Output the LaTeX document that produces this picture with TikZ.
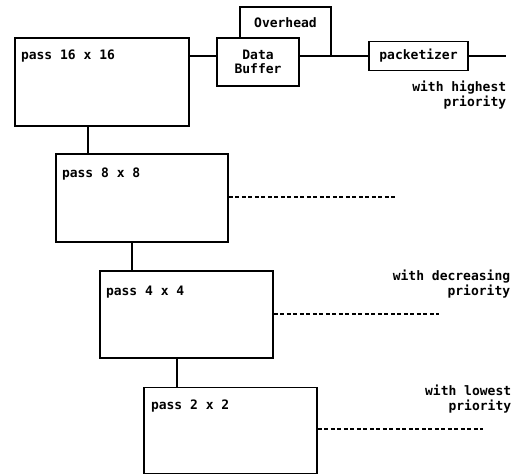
\documentclass[tikz,border=0pt]{standalone}
\usepackage{fontspec}
\setmonofont{DejaVu Sans Mono}
\begin{document}
\begin{tikzpicture}[x=1pt,y=1pt,
  line width=1.6pt,
  every node/.style={font=\ttfamily\bfseries\fontsize{13}{15}\selectfont},
  box/.style={draw, rectangle, inner sep=0pt},
  txt/.style={inner sep=0pt, anchor=west},
  lbl/.style={inner sep=0pt, align=right, anchor=north east},
  dsh/.style={line width=1.3pt, dash pattern=on 4pt off 2.5pt}]
\useasboundingbox (0,0) rectangle (517,-475);
% pass boxes
\node[box, minimum width=174pt, minimum height=88pt] (b1) at (102,-82) {};
\node[box, minimum width=172pt, minimum height=88pt] (b2) at (142,-198) {};
\node[box, minimum width=173pt, minimum height=87pt] (b3) at (186.5,-314.5) {};
\node[box, minimum width=173pt, minimum height=86pt] (b4) at (230.5,-430.5) {};
\node[txt] (t1) at ([xshift=6pt,yshift=-19pt]b1.north west) {pass 16 x 16};
\node[txt] (t2) at ([xshift=6pt,yshift=-21pt]b2.north west) {pass 8 x 8};
\node[txt] (t3) at ([xshift=6pt,yshift=-22pt]b3.north west) {pass 4 x 4};
\node[txt] (t4) at ([xshift=7pt,yshift=-19pt]b4.north west) {pass 2 x 2};
% vertical connectors
\draw ([xshift=33pt]b2.north west |- b1.south) -- ([xshift=33pt]b2.north west);
\draw ([xshift=33pt]b3.north west |- b2.south) -- ([xshift=33pt]b3.north west);
\draw ([xshift=34pt]b4.north west |- b3.south) -- ([xshift=34pt]b4.north west);
% dashed outputs
\coordinate (d2) at (395,-197);
\coordinate (d3) at (439,-314);
\coordinate (d4) at (483,-429);
\draw[dsh] (b2.east |- d2) -- (d2);
\draw[dsh] (b3.east |- d3) -- (d3);
\draw[dsh] (b4.east |- d4) -- (d4);
% top chain
\node[box, minimum width=91pt, minimum height=49pt] (oh) at (285.5,-31.5) {};
\node[inner sep=0pt] (oht) at (285.5,-23) {Overhead};
\node[box, fill=white, minimum width=82pt, minimum height=48pt, align=center] (db) at (258,-62) {Data\\[-1pt]Buffer};
\node[box, minimum width=99pt, minimum height=29pt] (pk) at (418.5,-56) {packetizer};
\coordinate (out) at (506,-56);
\draw (b1.east |- pk) -- (db.west |- pk);
\draw (db.east |- pk) -- (pk.west);
\draw (pk.east) -- (out);
% labels
\node[lbl] (l1) at (507,-80) {with highest\\priority};
\node[lbl] (l2) at (511,-269) {with decreasing\\priority};
\node[lbl] (l3) at (512,-384) {with lowest\\priority};
\end{tikzpicture}
\end{document}
